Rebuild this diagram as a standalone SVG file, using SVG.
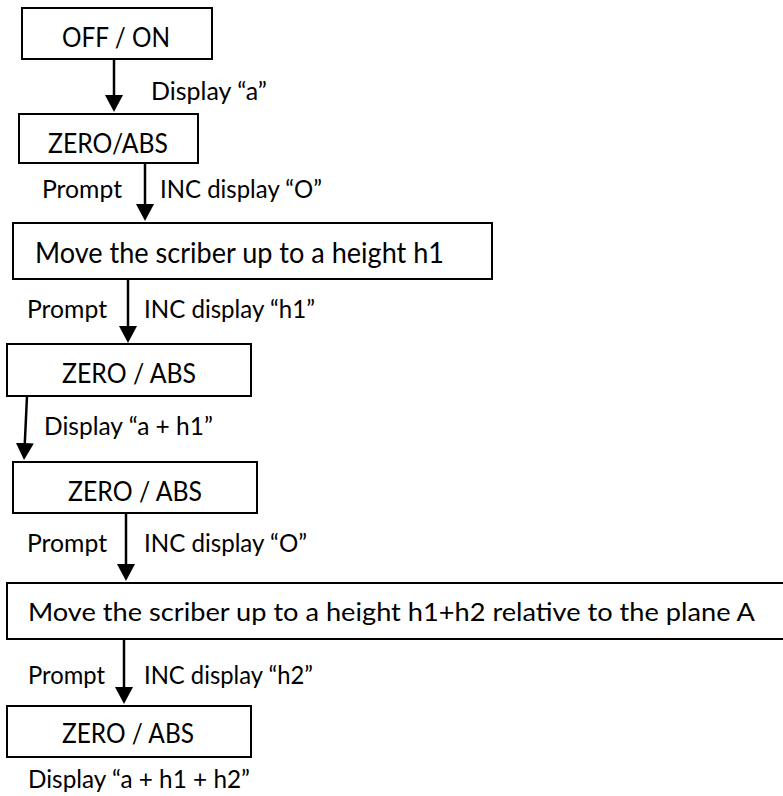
<svg xmlns="http://www.w3.org/2000/svg" width="783" height="796" viewBox="0 0 783 796">
<defs>
<marker id="ah" markerUnits="userSpaceOnUse" markerWidth="17" markerHeight="18" refX="9" refY="9" orient="auto" viewBox="0 0 17 18"><path d="M0,0 L17,9 L0,18 Z" fill="#000"/></marker>
</defs>
<style>
.box{fill:#fff;stroke:#000;stroke-width:2}
.t{font-family:Lato,"Open Sans","Liberation Sans",sans-serif;fill:#000;font-size:26px}
.l{font-family:Lato,"Open Sans","Liberation Sans",sans-serif;fill:#000;font-size:24.5px}
.c{stroke:#000;stroke-width:2.5;fill:none;marker-end:url(#ah)}
</style>
<rect width="783" height="796" fill="#fff"/>
<g id="connectors">
<line class="c" x1="114" y1="59" x2="114" y2="104"/>
<line class="c" x1="145" y1="163" x2="145" y2="213"/>
<line class="c" x1="128" y1="279" x2="128" y2="335"/>
<line class="c" x1="27" y1="396" x2="24.4" y2="452"/>
<line class="c" x1="126" y1="514" x2="126" y2="573"/>
<line class="c" x1="124" y1="639" x2="124" y2="696"/>
</g>
<g id="labels">
<text class="l" x="151" y="100" textLength="116" lengthAdjust="spacingAndGlyphs">Display “a”</text>
<text class="l" x="42" y="198" textLength="80" lengthAdjust="spacingAndGlyphs">Prompt</text>
<text class="l" x="160" y="198" textLength="162" lengthAdjust="spacingAndGlyphs">INC display “O”</text>
<text class="l" x="27" y="318" textLength="80" lengthAdjust="spacingAndGlyphs">Prompt</text>
<text class="l" x="144" y="318" textLength="171" lengthAdjust="spacingAndGlyphs">INC display “h1”</text>
<text class="l" x="44" y="435" textLength="169" lengthAdjust="spacingAndGlyphs">Display “a + h1”</text>
<text class="l" x="27" y="552" textLength="80" lengthAdjust="spacingAndGlyphs">Prompt</text>
<text class="l" x="144" y="552" textLength="163" lengthAdjust="spacingAndGlyphs">INC display “O”</text>
<text class="l" x="28" y="684" textLength="77" lengthAdjust="spacingAndGlyphs">Prompt</text>
<text class="l" x="144" y="684" textLength="169" lengthAdjust="spacingAndGlyphs">INC display “h2”</text>
<text class="l" x="28" y="788" textLength="222" lengthAdjust="spacingAndGlyphs">Display “a + h1 + h2”</text>
</g>
<g id="n1">
<rect class="box" x="22" y="8" width="190" height="51"/>
<text class="t" x="62" y="47" style="font-size:27px" textLength="108" lengthAdjust="spacingAndGlyphs">OFF / ON</text>
</g>
<g id="n2">
<rect class="box" x="19" y="114" width="179" height="49"/>
<text class="t" x="48" y="153" textLength="120" lengthAdjust="spacingAndGlyphs">ZERO/ABS</text>
</g>
<g id="n3">
<rect class="box" x="13" y="223" width="479" height="56"/>
<text class="t" x="35" y="263" style="font-size:29px" textLength="409" lengthAdjust="spacingAndGlyphs">Move the scriber up to a height h1</text>
</g>
<g id="n4">
<rect class="box" x="7" y="344" width="244" height="52"/>
<text class="t" x="62" y="383" textLength="134" lengthAdjust="spacingAndGlyphs">ZERO / ABS</text>
</g>
<g id="n5">
<rect class="box" x="13" y="462" width="244" height="51"/>
<text class="t" x="68" y="501" textLength="134" lengthAdjust="spacingAndGlyphs">ZERO / ABS</text>
</g>
<g id="n6">
<rect class="box" x="7" y="583" width="790" height="56"/>
<text class="t" x="28" y="621" style="font-size:25px" textLength="727" lengthAdjust="spacingAndGlyphs">Move the scriber up to a height h1+h2 relative to the plane A</text>
</g>
<g id="n7">
<rect class="box" x="7" y="706" width="244" height="51"/>
<text class="t" x="62" y="743" textLength="132" lengthAdjust="spacingAndGlyphs">ZERO / ABS</text>
</g>
</svg>
